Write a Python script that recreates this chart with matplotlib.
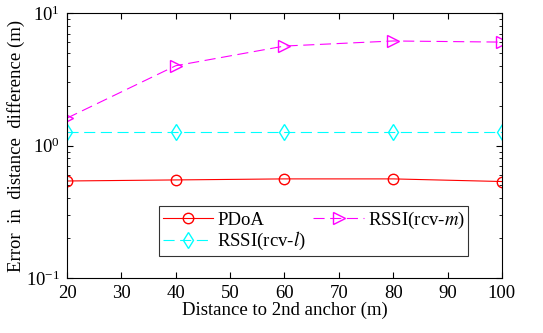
import matplotlib.pyplot as plt
from matplotlib.ticker import LogLocator, NullFormatter, MultipleLocator

plt.rcParams['font.family'] = 'Liberation Serif'
plt.rcParams['mathtext.fontset'] = 'stix'

distance = [20, 40, 60, 80, 100]
pdoa = [0.54, 0.55, 0.56, 0.56, 0.535]
rssi_l = [1.27, 1.27, 1.27, 1.27, 1.27]
rssi_m = [1.61, 4.0, 5.63, 6.15, 6.03]

fig = plt.figure(figsize=(5.43, 3.33), dpi=100)
ax = fig.add_axes([0.1234, 0.165, 0.801, 0.796])

ax.plot(distance, pdoa, '-', color='red', marker='o', markersize=7.5,
        markerfacecolor='none', linewidth=0.8, label='PDoA')
ax.plot(distance, rssi_l, '--', color='cyan', marker='d', markersize=8,
        markerfacecolor='none', linewidth=0.8, dashes=(10, 5), label=r'RSSI(rcv-$l$)')
ax.plot(distance, rssi_m, '--', color='magenta', marker='>', markersize=8,
        markerfacecolor='none', linewidth=0.8, dashes=(10, 5), label=r'RSSI(rcv-$m$)')

ax.set_yscale('log')
ax.set_ylim(0.1, 10)
ax.set_xlim(20, 100)
ax.xaxis.set_major_locator(MultipleLocator(10))
ax.yaxis.set_minor_locator(LogLocator(base=10, subs=range(2, 10)))
ax.yaxis.set_minor_formatter(NullFormatter())
ax.tick_params(which='both', direction='in', top=True, right=True, labelsize=13.5)
ax.tick_params(which='major', length=4, pad=5)
ax.tick_params(which='minor', length=2)
for s in ax.spines.values():
    s.set_linewidth(0.8)

ax.set_xlabel('Distance to 2nd anchor (m)', fontsize=13.5, labelpad=0)
ax.set_ylabel('Error  in  distance  difference (m)', fontsize=13.5, labelpad=1)

leg = ax.legend(ncol=2, loc='lower left', bbox_to_anchor=(0.2115, 0.083),
                fontsize=13.5, frameon=True, fancybox=False, edgecolor='black',
                handlelength=2.7, borderpad=0.2, labelspacing=0.08,
                columnspacing=0.4, handletextpad=0.2, borderaxespad=0)
leg.get_frame().set_linewidth(0.8)

fig.savefig('out.png', dpi=100)
